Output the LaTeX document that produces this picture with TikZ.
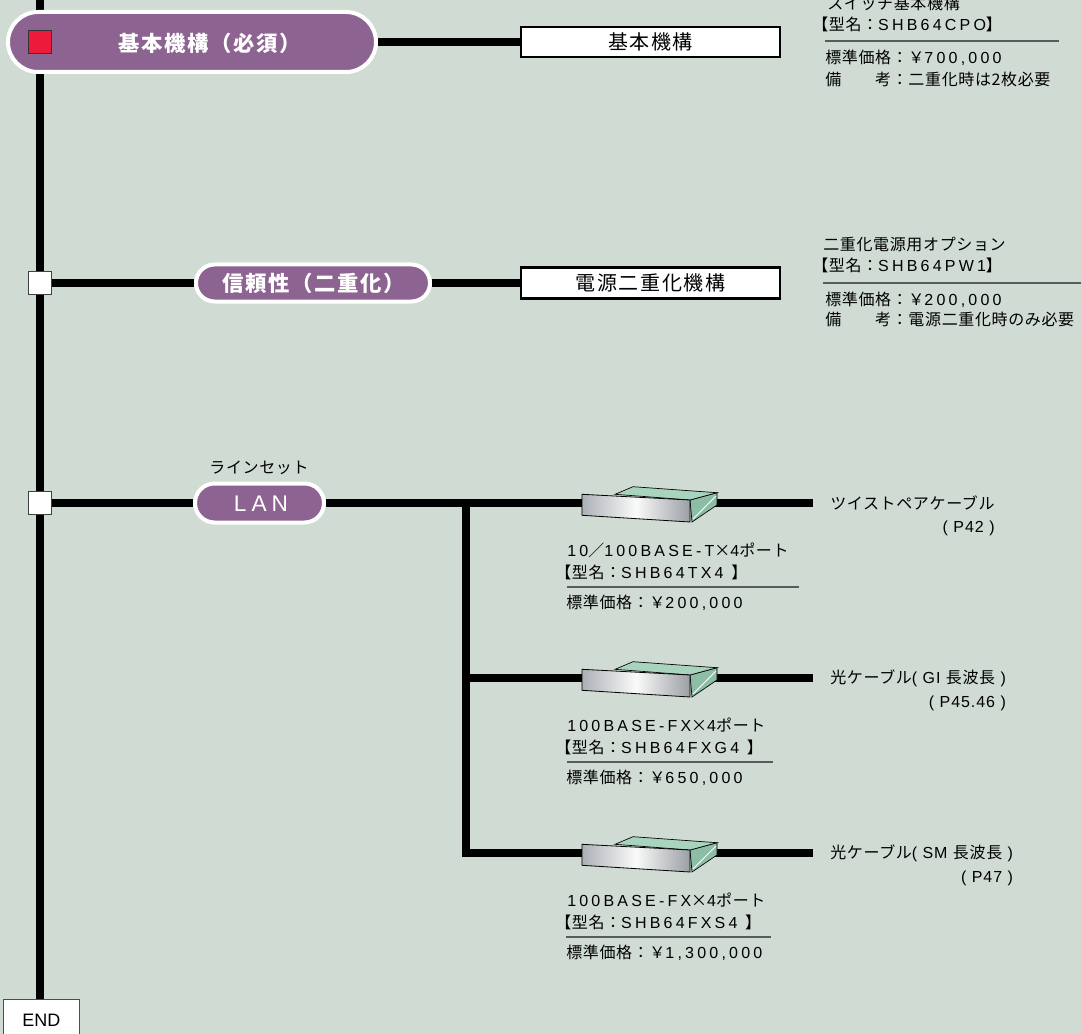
\documentclass[tikz,border=0pt]{standalone}
\usepackage{fontspec}
\setmainfont{Liberation Sans}
\newfontfamily\jpf[LetterSpace=4]{Noto Sans CJK JP}
\newfontfamily\jpbf[LetterSpace=8]{Noto Sans CJK JP}
\newfontfamily\latf[LetterSpace=20]{Liberation Sans}
\newfontfamily\latsf[LetterSpace=6]{Liberation Sans}
\newfontfamily\lanf[LetterSpace=22]{Liberation Sans}
\usetikzlibrary{shapes.misc}
\newcommand\cj[1]{{\jpf #1}}
\newcommand\lt[1]{{\latf #1}}
\newcommand\ls[1]{{\latsf #1}}
\newcommand\bodyfont{\fontsize{12}{14}\selectfont}
\definecolor{bg}{RGB}{208,219,211}
\definecolor{pillc}{RGB}{141,99,145}
\definecolor{redsq}{RGB}{237,26,59}
\definecolor{cardtop}{RGB}{168,212,190}
\definecolor{cardside}{RGB}{140,190,165}
\definecolor{frontg}{RGB}{172,176,182}
\definecolor{rulec}{RGB}{90,90,90}
\newcommand\cardshape[1]{%
  \begin{scope}[shift={(0,#1)}]
    \filldraw[fill=cardside, draw=black, line width=0.5pt] (690,-3) -- (717,-10.3) -- (717,2) -- (692,19) -- cycle;
    \draw[white, line width=0.6pt] (716,-7) -- (693,16);
    \filldraw[fill=cardtop, draw=black, line width=0.5pt] (615,-8.7) -- (633,-16.3) -- (717,-10.3) -- (690,-3) -- cycle;
    \shade[left color=frontg, right color=frontg!90!black, middle color=white!96!gray] (582,-8.7) -- (690,-3) -- (690,19) -- (582,12.3) -- cycle;
    \draw[black, line width=0.6pt] (582,-8.7) -- (690,-3) -- (690,19) -- (582,12.3) -- cycle;
  \end{scope}}
\begin{document}
\begin{tikzpicture}[x=0.75pt,y=-0.75pt,
  bus/.style={line width=5.8pt, line cap=butt, line join=miter},
  pill/.style={rounded rectangle, draw=white, line width=3pt, fill=pillc, inner sep=0pt},
  pilltext/.style={inner sep=0pt, text=white, font=\jpbf\bfseries\fontsize{16}{18}\selectfont},
  boxn/.style={draw=black, line width=1.6pt, fill=white, inner sep=0pt, minimum width=194.25pt, font=\jpbf\fontsize{15}{17}\selectfont},
  sqw/.style={draw=black!75, line width=1pt, fill=white, minimum size=17pt, inner sep=0pt},
  txt/.style={inner sep=0pt, font=\bodyfont, text=black},
  rulel/.style={draw=rulec, line width=1.1pt}]
\useasboundingbox (0,0) rectangle (1081,1034);
\fill[bg] (0,0) rectangle (1081,1034);

% main bus
\coordinate (top) at (40,-5);
\node[draw=black!70, line width=0.8pt, fill=white, minimum width=57pt, minimum height=30.75pt, inner sep=0pt, anchor=north, font=\fontsize{13.5}{15}\selectfont] (endb) at (41.3,999) {END};
\draw[bus] (top) -- (40,999);

% row 1
\node[pill, minimum width=276pt, minimum height=45pt] (p1) at (192,42) {};
\node[draw=black!80, line width=0.8pt, fill=redsq, minimum size=17.5pt, inner sep=0pt] (r1) at (40,42) {};
\node[pilltext] at (210,43) {基本機構（必須）};
\node[boxn, minimum height=22.5pt] (b1) at (650.5,42) {基本機構};
\draw[bus] (p1.east) -- (b1.west);

% row 2
\node[sqw] (s2) at (40,283) {};
\node[pill, minimum width=175.5pt, minimum height=27.75pt] (p2) at (313,283) {};
\node[pilltext] at (314,283) {信頼性（二重化）};
\node[boxn, minimum height=23.25pt] (b2) at (650.5,283) {電源二重化機構};
\draw[bus] (s2.east) -- (p2.west);
\draw[bus] (p2.east) -- (b2.west);

% row 3
\node[sqw] (s3) at (40,503) {};
\node[pill, minimum width=96.75pt, minimum height=29.25pt] (p3) at (259.5,503) {};
\node[inner sep=0pt, text=white, font=\lanf\fontsize{17}{19}\selectfont] at (261,504) {LAN};
\node[txt] at (259,468) {\cj{ラインセット}};
\coordinate (e0) at (813,503);
\coordinate (j0) at (466,503);
\coordinate (j1) at (466,678);
\coordinate (j2) at (466,853);
\coordinate (e1) at (813,678);
\coordinate (e2) at (813,853);
\draw[bus] (s3.east) -- (p3.west);
\draw[bus] (p3.east) -- (e0);
\draw[bus] (j0) -- (j2) -- (e2);
\draw[bus] (j1) -- (e1);

\cardshape{503}
\cardshape{678}
\cardshape{853}

% row 1 right text
\node[txt, anchor=west] (t1a) at (827,3) {\cj{スイッチ基本機構}};
\node[txt, anchor=west] (t1b) at (812,24) {\cj{【型名：}\lt{SHB64CPO}\cj{】}};
\draw[rulel] (825,41) -- (1059,41);
\node[txt, anchor=west] (t1c) at (825,58) {\cj{標準価格：￥}\lt{700,000}};
\node[txt, anchor=west] (t1d) at (825,79) {\cj{備　　考：二重化時は2枚必要}};

% row 2 right text
\node[txt, anchor=west] (t2a) at (823,245) {\cj{二重化電源用オプション}};
\node[txt, anchor=west] (t2b) at (812,265) {\cj{【型名：}\lt{SHB64PW1}\cj{】}};
\draw[rulel] (823,283) -- (1081,283);
\node[txt, anchor=west] (t2c) at (825,300) {\cj{標準価格：￥}\lt{200,000}};
\node[txt, anchor=west] (t2d) at (825,319) {\cj{備　　考：電源二重化時のみ必要}};

% card 1 text
\node[txt, anchor=west] (c1a) at (567,550) {\lt{10}\cj{／}\lt{100BASE-T}\cj{×}\lt{4}\cj{ポート}};
\node[txt, anchor=west] (c1b) at (555,572) {\cj{【型名：}\lt{SHB64TX4 }\cj{】}};
\draw[rulel] (567,587) -- (799,587);
\node[txt, anchor=west] (c1c) at (566,603) {\cj{標準価格：￥}\lt{200,000}};
\node[txt, anchor=west] (l1) at (830,503) {\cj{ツイストペアケーブル}};
\node[txt, anchor=east] at ([yshift=-18.75pt]l1.east) {\ls{( P42 )}};

% card 2 text
\node[txt, anchor=west] (c2a) at (567,725) {\lt{100BASE-FX}\cj{×}\lt{4}\cj{ポート}};
\node[txt, anchor=west] (c2b) at (555,747) {\cj{【型名：}\lt{SHB64FXG4 }\cj{】}};
\draw[rulel] (567,762) -- (773,762);
\node[txt, anchor=west] (c2c) at (566,778) {\cj{標準価格：￥}\lt{650,000}};
\node[txt, anchor=west] (l2) at (830,678) {\cj{光ケーブル}\ls{( GI }\cj{長波長}\ls{ )}};
\node[txt, anchor=east] at ([yshift=-18.75pt]l2.east) {\ls{( P45.46 )}};

% card 3 text
\node[txt, anchor=west] (c3a) at (567,900) {\lt{100BASE-FX}\cj{×}\lt{4}\cj{ポート}};
\node[txt, anchor=west] (c3b) at (555,922) {\cj{【型名：}\lt{SHB64FXS4 }\cj{】}};
\draw[rulel] (566,937) -- (771,937);
\node[txt, anchor=west] (c3c) at (566,953) {\cj{標準価格：￥}\lt{1,300,000}};
\node[txt, anchor=west] (l3) at (830,853) {\cj{光ケーブル}\ls{( SM }\cj{長波長}\ls{ )}};
\node[txt, anchor=east] at ([yshift=-18.75pt]l3.east) {\ls{( P47 )}};
\end{tikzpicture}
\end{document}
